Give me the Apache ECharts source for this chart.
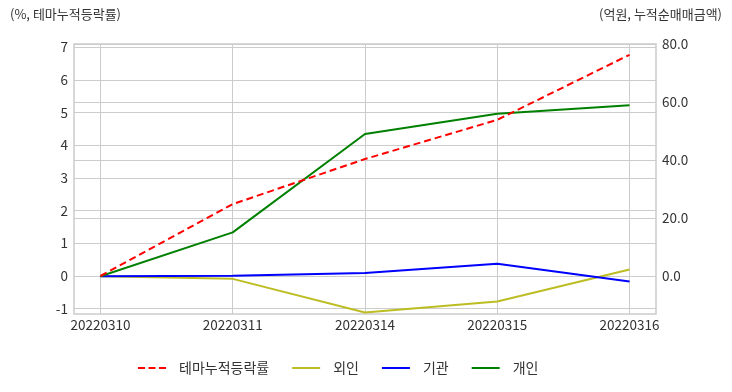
<!DOCTYPE html>
<html><head><meta charset="utf-8">
<script src="https://cdn.jsdelivr.net/npm/echarts@6/dist/echarts.min.js"></script>
<style>html,body{margin:0;padding:0;background:#fff}#c{width:732px;height:392px}</style>
</head><body><div id="c"></div>
<script>
const categories = ['20220310','20220311','20220314','20220315','20220316'];
const themeReturn = [0, 2.20, 3.58, 4.78, 6.77];
const foreign = [0, -0.9, -12.5, -8.7, 2.3];
const institution = [0, 0.2, 1.1, 4.3, -1.8];
const individual = [0, 15.1, 49.0, 56.0, 58.9];
const leftTicks = [-1, 0, 1, 2, 3, 4, 5, 6, 7];
const rightTicks = [0, 20, 40, 60, 80];
const idx = categories.map((c, i) => i);

const font = '"Noto Sans CJK KR", "Noto Sans", sans-serif';
const grid = '#cccccc';
const solidIcon = 'path://M0,0L28,0L28,2L0,2Z';
const dashIcon = 'path://M0,0L7,0L7,2L0,2ZM10.5,0L17.5,0L17.5,2L10.5,2ZM21,0L28,0L28,2L21,2Z';
const chart = echarts.init(document.getElementById('c'));
const pair = arr => arr.map((v, i) => [i, v]);
chart.setOption({
  animation: false,
  backgroundColor: '#fff',
  textStyle: {fontFamily: font},
  graphic: [
    {type: 'text', left: 10, top: 8, style: {text: '(%, 테마누적등락률)', font: '13px ' + font, fill: '#333'}},
    {type: 'text', right: 10, top: 8, style: {text: '(억원, 누적순매매금액)', font: '13px ' + font, fill: '#333'}}
  ],
  grid: {left: 74, right: 76, top: 44, bottom: 78, show: true, borderColor: grid, borderWidth: 1.5, backgroundColor: '#fff'},
  legend: {
    top: 361, left: 138, padding: 0, itemWidth: 28, itemHeight: 2, itemGap: 23,
    textStyle: {fontSize: 14, color: '#333', fontFamily: font, padding: [0, 0, 0, 8]},
    data: [
      {name: '테마누적등락률', icon: dashIcon, itemStyle: {color: '#ff0000'}},
      {name: '외인', icon: solidIcon}, {name: '기관', icon: solidIcon}, {name: '개인', icon: solidIcon}
    ]
  },
  xAxis: {
    type: 'value', min: -0.2, max: 4.2,
    axisLine: {show: false}, axisTick: {show: false, customValues: idx},
    axisLabel: {customValues: idx, formatter: v => categories[Math.round(v)], fontSize: 13.5, color: '#333', margin: 4, fontFamily: font},
    splitLine: {show: true, lineStyle: {color: grid, width: 1}}
  },
  yAxis: [
    {
      type: 'value', min: -1.163, max: 7.1, position: 'left',
      axisLine: {show: false}, axisTick: {show: false, customValues: leftTicks},
      axisLabel: {customValues: leftTicks, fontSize: 13.5, color: '#333', margin: 6, fontFamily: font},
      splitLine: {show: true, lineStyle: {color: grid, width: 1}}
    },
    {
      type: 'value', min: -13, max: 80, position: 'right',
      axisLine: {show: false}, axisTick: {show: false, customValues: rightTicks},
      axisLabel: {customValues: rightTicks, formatter: v => v.toFixed(1), fontSize: 13.5, color: '#333', margin: 6, fontFamily: font},
      splitLine: {show: true, lineStyle: {color: grid, width: 1}}
    }
  ],
  series: [
    {name: '테마누적등락률', type: 'line', yAxisIndex: 0, data: pair(themeReturn), symbol: 'none', z: 5,
     lineStyle: {color: '#ff0000', width: 2, type: [7, 4]}, itemStyle: {color: '#ff0000'}},
    {name: '외인', type: 'line', yAxisIndex: 1, data: pair(foreign), symbol: 'none',
     lineStyle: {color: '#bcbd22', width: 2}, itemStyle: {color: '#bcbd22'}},
    {name: '기관', type: 'line', yAxisIndex: 1, data: pair(institution), symbol: 'none',
     lineStyle: {color: '#0000ff', width: 2}, itemStyle: {color: '#0000ff'}},
    {name: '개인', type: 'line', yAxisIndex: 1, data: pair(individual), symbol: 'none',
     lineStyle: {color: '#008000', width: 2}, itemStyle: {color: '#008000'}}
  ]
});
</script></body></html>
